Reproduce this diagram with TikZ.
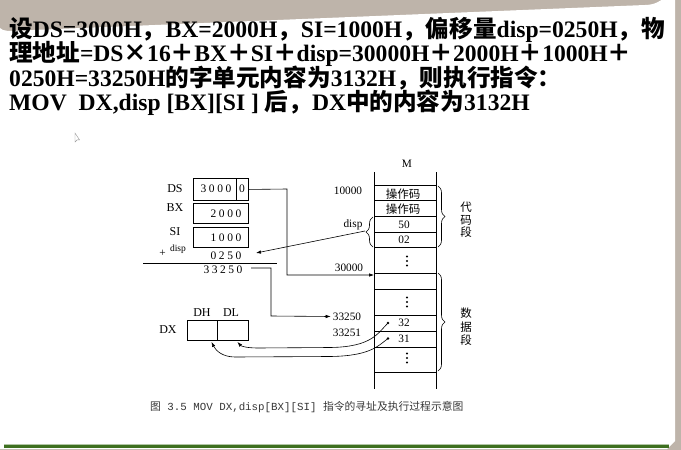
\documentclass[tikz,border=0pt]{standalone}
\usepackage{fontspec}
\setmainfont{Liberation Serif}
\newfontfamily\cjk{Noto Sans CJK SC}
\newfontfamily\monof{Liberation Mono}
\newfontfamily\spacedf{Liberation Serif}[LetterSpace=22]
\usetikzlibrary{arrows.meta,decorations.pathreplacing,calc}
\definecolor{tanbg}{RGB}{190,180,170}
\definecolor{grn}{RGB}{62,112,32}
\definecolor{capc}{RGB}{55,55,55}
\begin{document}
\begin{tikzpicture}[x=1pt,y=-1pt,
  lbl/.style={inner sep=0, font=\fontsize{11.3}{12}\selectfont},
  rname/.style={inner sep=0, font=\fontsize{12}{13}\selectfont},
  digs/.style={inner sep=0, font=\spacedf\fontsize{11.5}{12}\selectfont},
  cjkcell/.style={inner sep=0, font=\cjk\fontsize{11.5}{12}\selectfont},
  regbox/.style={draw, line width=0.9pt, inner sep=0, anchor=north west},
  arr/.style={-{Latex[length=5pt,width=3.5pt]}, line width=0.6pt},
  wire/.style={line width=0.6pt},
  brc/.style={decorate, decoration={brace, amplitude=7pt}, line width=0.6pt},
  ttl/.style={anchor=base west, inner sep=0, font=\bfseries\fontsize{23.6}{24}\selectfont}]
\useasboundingbox (0,0) rectangle (681,450);
% background panel
\fill[tanbg] (0,0) rectangle (681,450);
\fill[white] (-5,449) -- (-5,18) arc[start angle=180,end angle=90,radius=13] -- (645,5)
  arc[start angle=90,end angle=0,radius=30] -- (675,441) -- (667,449) -- cycle;
\draw[grn, line width=2.6pt] (4,446.5) -- (669,446.5);
\draw[grn!40, line width=0.6pt] (4,444.6) -- (669,444.6);
% title
\node[ttl] (t1) at (9,37) {{\cjk 设}DS=3000H{\cjk ，}BX=2000H{\cjk ，}SI=1000H{\cjk ，偏移量}disp=0250H{\cjk ，物}};
\node[ttl] (t2) at (9,61.5) {{\cjk 理地址}=DS{\cjk ×}16{\cjk ＋}BX{\cjk ＋}SI{\cjk ＋}disp=30000H{\cjk ＋}2000H{\cjk ＋}1000H{\cjk ＋}};
\node[ttl] (t3) at (9,86) {0250H=33250H{\cjk 的字单元内容为}3132H{\cjk ，则执行指令：}};
\node[ttl] (t4) at (9,110.5) {MOV\ \ DX,disp [BX][SI ] {\cjk 后，}DX{\cjk 中的内容为}3132H};
% cursor
\draw[gray!80, line width=0.4pt, fill=white] (75,133) -- (75,142) -- (77.2,139.8) -- (79.6,140) -- cycle;
% registers
\node[regbox, minimum width=55pt, minimum height=22pt] (dsbox) at (193,178) {};
\draw[line width=0.9pt] (236,178) -- (236,200);
\node[digs] (dsv) at (216,189) {3000};
\node[digs] (dsz) at (242,189) {0};
\node[regbox, minimum width=55pt, minimum height=20pt] (bxbox) at (193,203) {};
\node[digs] (bxv) at (226,213.5) {2000};
\node[regbox, minimum width=55pt, minimum height=20pt] (sibox) at (193,227) {};
\node[digs] (siv) at (226,237.5) {1000};
\node[rname] (dsl) at (175,189) {DS};
\node[rname] (bxl) at (175,208) {BX};
\node[rname] (sil) at (175,232) {SI};
\node[lbl] (plus) at (162.5,253) {+};
\node[lbl, font=\fontsize{9.5}{10}\selectfont] (displ) at (178,249.5) {disp};
\node[digs] (v0250) at (226,255.5) {0250};
\draw[wire] (143,263) -- (277,263);
\node[digs] (v33250) at (223,269.5) {33250};
% DX
\node[regbox, minimum width=30pt, minimum height=20pt] (dhbox) at (187,320) {};
\node[regbox, minimum width=31pt, minimum height=20pt] (dlbox) at (217,320) {};
\node[rname] (dxl) at (168,330) {DX};
\node[rname] (dhl) at (202,312.5) {DH};
\node[rname] (dll) at (231,312.5) {DL};
% memory column
\node[inner sep=0, minimum width=62pt, minimum height=217pt, anchor=north west] (mem) at (374,172) {};
\draw[line width=0.8pt] (mem.north west) -- (mem.south west);
\draw[line width=0.8pt] (mem.north east) -- (mem.south east);
\foreach \yy in {185,200,216,232,247,273,289,315,331,347,372}
  \draw[line width=0.7pt] (374,\yy) -- (436,\yy);
\node[lbl] (mlab) at (407,164) {M};
\node[cjkcell] (op1) at (403,194) {操作码};
\node[cjkcell] (op2) at (403,209.5) {操作码};
\node[lbl] (c50) at (404,224.5) {50};
\node[lbl] (c02) at (404,240) {02};
\node[lbl] (c32) at (404,322.5) {32};
\node[lbl] (c31) at (404,338.5) {31};
\foreach \yy [count=\i] in {261,302,358}
  \foreach \dd in {-4.5,0,4.5}
    \fill (407,\yy+\dd) circle (1.1);
\node[lbl] (a10000) at (348,191) {10000};
\node[lbl] (adisp) at (353,225) {disp};
\node[lbl] (a30000) at (349,268) {30000};
\node[lbl] (a33250) at (347,316.5) {33250};
\node[lbl] (a33251) at (347,332.5) {33251};
% braces
\draw[brc] (373,247) -- (373,217);
\coordinate (btip) at (365,231);
\draw[brc] (438,186) -- (438,247);
\draw[brc] (438,273) -- (438,371);
\node[inner sep=0, font=\cjk\fontsize{11.5}{12.5}\selectfont, align=center] (cseg) at (466,220) {代\\码\\段};
\node[inner sep=0, font=\cjk\fontsize{11.5}{13.5}\selectfont, align=center] (dseg) at (466,327) {数\\据\\段};
% connectors
\coordinate (m30000) at (374,275);
\draw[arr] (dsbox.east) -- (287,189) -- (287,275) -- (m30000);
\coordinate (s33250) at (251,268);
\draw[arr] (s33250) -- (271,268) -- (271,316) -- ($(a33250.west)+(-2,0)$);
\coordinate (dispin) at (256,253);
\draw[arr] (btip) -- (dispin);
\coordinate (d32) at (388,323);
\coordinate (d31) at (388,338.5);
\fill (d32) circle (1.4);
\fill (d31) circle (1.4);
\draw[arr] (d32) .. controls (378,333) and (372,347) .. (330,347.5) -- (258,348)
  .. controls (246,348) and (241,346) .. ($(dlbox.south)+(4.5,1)$);
\draw[arr] (d31) .. controls (378,346) and (370,356) .. (330,356.5) -- (235,357)
  .. controls (223,357) and (216,351) .. ($(dhbox.south)+(9,1)$);
% caption
\node[anchor=base west, inner sep=0, text=capc, font=\monof\fontsize{10.8}{12}\selectfont] (cap) at (150,410)
  {{\cjk 图} 3.5 MOV DX,disp[BX][SI] {\cjk 指令的寻址及执行过程示意图}};
\end{tikzpicture}
\end{document}
